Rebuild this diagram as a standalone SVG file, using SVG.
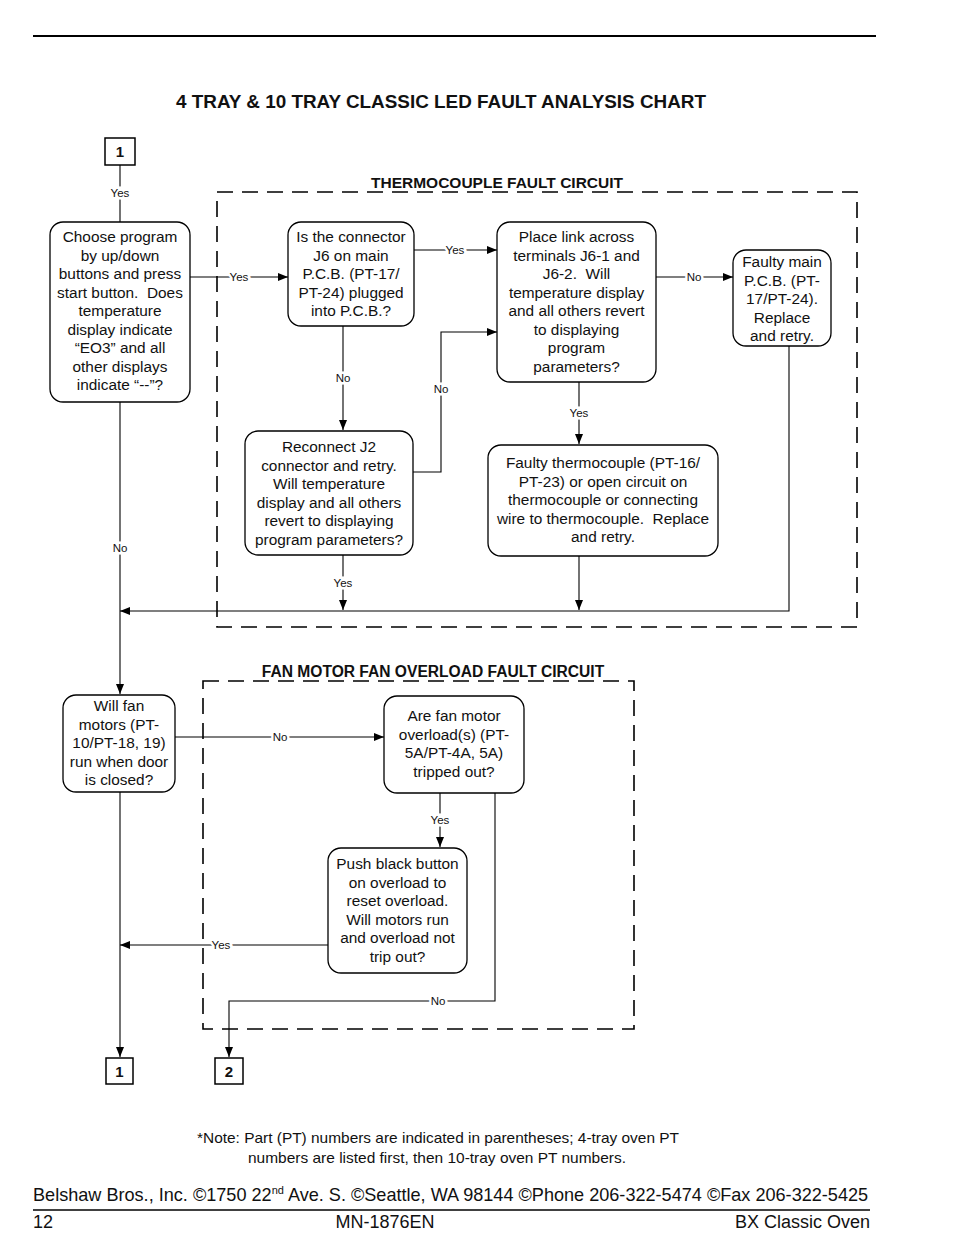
<svg xmlns="http://www.w3.org/2000/svg" width="954" height="1260" viewBox="0 0 954 1260">
<defs>
<style>
.bx{fill:#fff;stroke:#000;stroke-width:1.3}
.sq{fill:#fff;stroke:#000;stroke-width:1.5}
.t{font-family:"Liberation Sans",Arial,sans-serif;font-size:15.4px;fill:#111;text-anchor:middle}
.lb{font-family:"Liberation Sans",Arial,sans-serif;font-size:11.5px;fill:#111;text-anchor:middle;paint-order:stroke;stroke:#fff;stroke-width:5px}
.ln{fill:none;stroke:#000;stroke-width:1.1}
.dash{fill:none;stroke:#000;stroke-width:1.6;stroke-dasharray:16 9}
.h{font-family:"Liberation Sans",Arial,sans-serif;font-weight:bold;fill:#111;text-anchor:middle}
.num{font-family:"Liberation Sans",Arial,sans-serif;font-weight:bold;font-size:15px;fill:#111;text-anchor:middle}
.ft{font-family:"Liberation Sans",Arial,sans-serif;fill:#111}
</style>
<marker id="ar" viewBox="0 0 10 8" refX="10" refY="4" markerWidth="10" markerHeight="8" markerUnits="userSpaceOnUse" orient="auto">
<path d="M0,0 L10,4 L0,8 z" fill="#000"/>
</marker>
</defs>

<line x1="33" y1="36" x2="876" y2="36" stroke="#000" stroke-width="1.8"/>
<text class="h" x="441" y="108" font-size="18.5" textLength="530" lengthAdjust="spacingAndGlyphs">4 TRAY &amp; 10 TRAY CLASSIC LED FAULT ANALYSIS CHART</text>

<g id="thermo-region">
<rect class="dash" x="217" y="192" width="640" height="435"/>
<text class="h" x="497" y="188" font-size="15.5">THERMOCOUPLE FAULT CIRCUIT</text>
</g>
<g id="fan-region">
<rect class="dash" x="203" y="681" width="431" height="348"/>
<text class="h" x="433" y="677" font-size="15.6">FAN MOTOR FAN OVERLOAD FAULT CIRCUIT</text>
</g>

<g id="connectors">
<path class="ln" d="M120,165 V222"/>
<text class="lb" x="120" y="197">Yes</text>
<path class="ln" d="M190,277 H288" marker-end="url(#ar)"/>
<text class="lb" x="239" y="281">Yes</text>
<path class="ln" d="M414,250 H497" marker-end="url(#ar)"/>
<text class="lb" x="455" y="254">Yes</text>
<path class="ln" d="M656,277 H733" marker-end="url(#ar)"/>
<text class="lb" x="694" y="281">No</text>
<path class="ln" d="M343,326 V430" marker-end="url(#ar)"/>
<text class="lb" x="343" y="382">No</text>
<path class="ln" d="M413,472 H441 V332 H497" marker-end="url(#ar)"/>
<text class="lb" x="441" y="393">No</text>
<path class="ln" d="M579,382 V444" marker-end="url(#ar)"/>
<text class="lb" x="579" y="417">Yes</text>
<path class="ln" d="M343,555 V610" marker-end="url(#ar)"/>
<text class="lb" x="343" y="587">Yes</text>
<path class="ln" d="M579,556 V610" marker-end="url(#ar)"/>
<path class="ln" d="M789,330 V611 H120" marker-end="url(#ar)"/>
<path class="ln" d="M120,402 V694" marker-end="url(#ar)"/>
<text class="lb" x="120" y="552">No</text>
<path class="ln" d="M175,737 H384" marker-end="url(#ar)"/>
<text class="lb" x="280" y="741">No</text>
<path class="ln" d="M440,793 V847" marker-end="url(#ar)"/>
<text class="lb" x="440" y="824">Yes</text>
<path class="ln" d="M328,945 H120" marker-end="url(#ar)"/>
<text class="lb" x="221" y="949">Yes</text>
<path class="ln" d="M495,793 V1001 H229 V1057" marker-end="url(#ar)"/>
<text class="lb" x="438" y="1005">No</text>
<path class="ln" d="M120,792 V1057" marker-end="url(#ar)"/>
</g>

<g id="start1">
<rect class="sq" x="105" y="138" width="30" height="27"/>
<text class="num" x="120" y="157">1</text>
</g>

<g id="nodeA">
<rect class="bx" x="50" y="222" width="140" height="180" rx="13"/>
<text class="t"><tspan x="120" y="242">Choose program</tspan><tspan x="120" y="260.5">by up/down</tspan><tspan x="120" y="279">buttons and press</tspan><tspan x="120" y="297.5">start button.&#160; Does</tspan><tspan x="120" y="316">temperature</tspan><tspan x="120" y="334.5">display indicate</tspan><tspan x="120" y="353">“EO3” and all</tspan><tspan x="120" y="371.5">other displays</tspan><tspan x="120" y="390">indicate “--”?</tspan></text>
</g>

<g id="nodeB">
<rect class="bx" x="288" y="222" width="126" height="104" rx="13"/>
<text class="t"><tspan x="351" y="242">Is the connector</tspan><tspan x="351" y="260.5">J6 on main</tspan><tspan x="351" y="279">P.C.B. (PT-17/</tspan><tspan x="351" y="297.5">PT-24) plugged</tspan><tspan x="351" y="316">into P.C.B.?</tspan></text>
</g>

<g id="nodeC">
<rect class="bx" x="497" y="222" width="159" height="160" rx="13"/>
<text class="t"><tspan x="576.5" y="242">Place link across</tspan><tspan x="576.5" y="260.5">terminals J6-1 and</tspan><tspan x="576.5" y="279">J6-2.&#160; Will</tspan><tspan x="576.5" y="297.5">temperature display</tspan><tspan x="576.5" y="316">and all others revert</tspan><tspan x="576.5" y="334.5">to displaying</tspan><tspan x="576.5" y="353">program</tspan><tspan x="576.5" y="371.5">parameters?</tspan></text>
</g>

<g id="nodeD">
<rect class="bx" x="733" y="250" width="98" height="96" rx="13"/>
<text class="t"><tspan x="782" y="267">Faulty main</tspan><tspan x="782" y="285.5">P.C.B. (PT-</tspan><tspan x="782" y="304">17/PT-24).</tspan><tspan x="782" y="322.5">Replace</tspan><tspan x="782" y="341">and retry.</tspan></text>
</g>

<g id="nodeE">
<rect class="bx" x="245" y="431" width="168" height="124" rx="13"/>
<text class="t"><tspan x="329" y="452">Reconnect J2</tspan><tspan x="329" y="470.5">connector and retry.</tspan><tspan x="329" y="489">Will temperature</tspan><tspan x="329" y="507.5">display and all others</tspan><tspan x="329" y="526">revert to displaying</tspan><tspan x="329" y="544.5">program parameters?</tspan></text>
</g>

<g id="nodeF">
<rect class="bx" x="488" y="445" width="230" height="111" rx="13"/>
<text class="t"><tspan x="603" y="468">Faulty thermocouple (PT-16/</tspan><tspan x="603" y="486.5">PT-23) or open circuit on</tspan><tspan x="603" y="505">thermocouple or connecting</tspan><tspan x="603" y="523.5">wire to thermocouple.&#160; Replace</tspan><tspan x="603" y="542">and retry.</tspan></text>
</g>

<g id="nodeG">
<rect class="bx" x="63" y="695" width="112" height="97" rx="13"/>
<text class="t"><tspan x="119" y="711">Will fan</tspan><tspan x="119" y="729.5">motors (PT-</tspan><tspan x="119" y="748">10/PT-18, 19)</tspan><tspan x="119" y="766.5">run when door</tspan><tspan x="119" y="785">is closed?</tspan></text>
</g>

<g id="nodeH">
<rect class="bx" x="384" y="696" width="140" height="97" rx="13"/>
<text class="t"><tspan x="454" y="721">Are fan motor</tspan><tspan x="454" y="739.5">overload(s) (PT-</tspan><tspan x="454" y="758">5A/PT-4A, 5A)</tspan><tspan x="454" y="776.5">tripped out?</tspan></text>
</g>

<g id="nodeI">
<rect class="bx" x="328" y="848" width="139" height="125" rx="13"/>
<text class="t"><tspan x="397.5" y="869">Push black button</tspan><tspan x="397.5" y="887.5">on overload to</tspan><tspan x="397.5" y="906">reset overload.</tspan><tspan x="397.5" y="924.5">Will motors run</tspan><tspan x="397.5" y="943">and overload not</tspan><tspan x="397.5" y="961.5">trip out?</tspan></text>
</g>

<g id="end1">
<rect class="sq" x="106" y="1058" width="27" height="26"/>
<text class="num" x="119.5" y="1077">1</text>
</g>
<g id="end2">
<rect class="sq" x="215" y="1058" width="28" height="26"/>
<text class="num" x="229" y="1077">2</text>
</g>

<text class="ft" x="438" y="1143" font-size="14.5" text-anchor="middle" textLength="482" lengthAdjust="spacingAndGlyphs">*Note: Part (PT) numbers are indicated in parentheses; 4-tray oven PT</text>
<text class="ft" x="437" y="1163" font-size="14.5" text-anchor="middle" textLength="378" lengthAdjust="spacingAndGlyphs">numbers are listed first, then 10-tray oven PT numbers.</text>

<text class="ft" x="33" y="1201" font-size="18.1">Belshaw Bros., Inc. ©1750 22<tspan font-size="11" dy="-7">nd</tspan><tspan dy="7"> Ave. S. ©Seattle, WA 98144 ©Phone 206-322-5474 ©Fax 206-322-5425</tspan></text>
<line x1="33" y1="1210" x2="870" y2="1210" stroke="#000" stroke-width="1.5"/>
<text class="ft" x="33" y="1228" font-size="18">12</text>
<text class="ft" x="385" y="1228" font-size="18" text-anchor="middle">MN-1876EN</text>
<text class="ft" x="870" y="1228" font-size="18" text-anchor="end">BX Classic Oven</text>
</svg>
